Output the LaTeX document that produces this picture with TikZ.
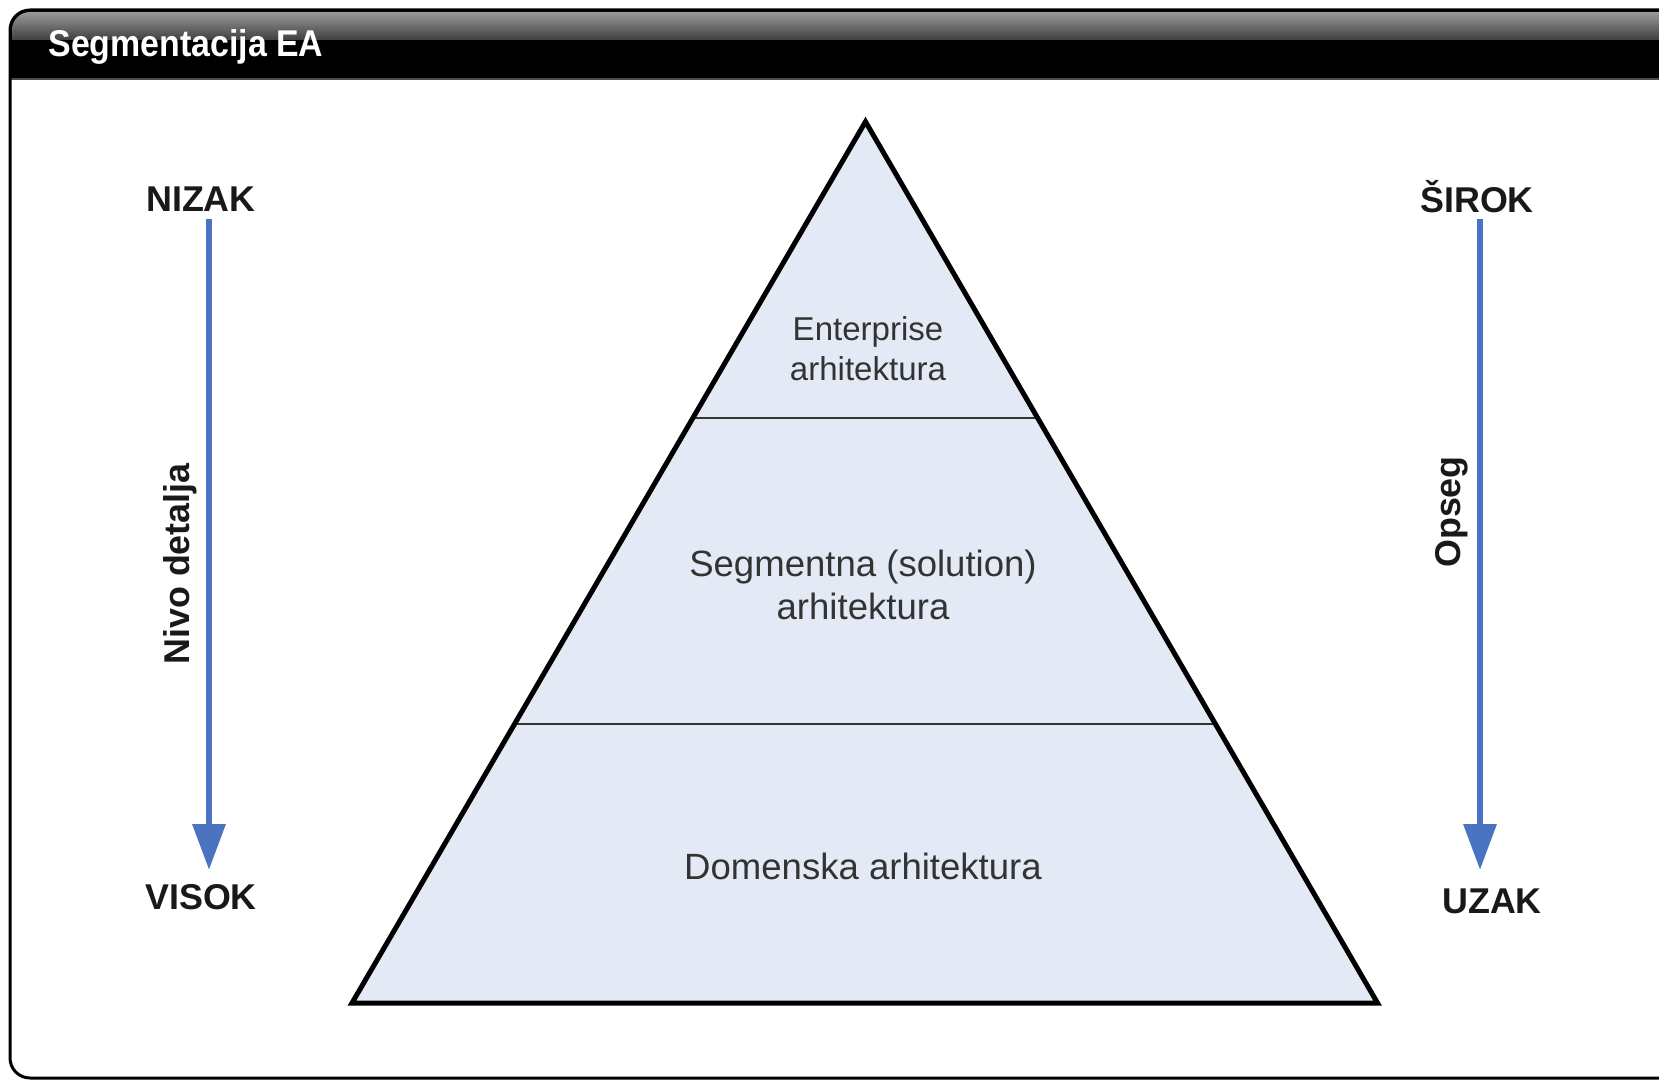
\documentclass[tikz,border=0pt]{standalone}
\usepackage{fontspec}
\setmainfont{Liberation Sans}
\usepackage{xcolor}
\usetikzlibrary{positioning,calc,arrows.meta}

\definecolor{pyrfill}{HTML}{E4EAF5}
\definecolor{arrblue}{HTML}{4A74C2}
\definecolor{txtgray}{HTML}{333333}

\tikzset{
    layer/.style={font=\fontsize{10.4}{12}\selectfont, text=txtgray, align=center},
    endlabel/.style={font=\bfseries\fontsize{10.2}{12}\selectfont, text=black!90},
    sidelabel/.style={font=\bfseries\fontsize{10.2}{12}\selectfont, text=black!90, rotate=90},
    scalearrow/.style={arrblue, line width=0.65mm, -{Triangle[length=4.6mm,width=3.2mm]}}
}

\begin{document}
\begin{tikzpicture}[x=0.1mm,y=-0.1mm]
    \useasboundingbox (0,0) rectangle (1659,1079);
    \begin{scope}
    \clip (0,0) rectangle (1659,1079);
    % frame and title bar
    \fill[black] (10,79) [rounded corners=2mm] -- (10,10) -- (1720,10) [sharp corners] -- (1720,79) -- cycle;
    \shade[top color=black!40, bottom color=black!75] (12,40) [rounded corners=1.8mm] -- (12,12) -- (1720,12) [sharp corners] -- (1720,40) -- cycle;
    \draw[black!70, line width=0.2mm] (11,79) -- (1720,79);
    \draw[black, line width=0.3mm, rounded corners=2mm] (1720,10) -- (10,10) -- (10,1078) -- (1720,1078);
    \end{scope}
    \node[anchor=west, text=white, font=\bfseries\fontsize{10.6}{12}\selectfont] (title) at (36,47) {\scalebox{0.91}[1]{Segmentacija EA}};

    % pyramid
    \coordinate (apex) at (865.5,121.7);
    \coordinate (bl) at (352,1003);
    \coordinate (br) at (1377.5,1003);
    \fill[pyrfill] (apex) -- (bl) -- (br) -- cycle;
    \draw[txtgray, line width=0.2mm] ($(apex)!0.3362!(bl)$) -- ($(apex)!0.3362!(br)$);
    \draw[txtgray, line width=0.2mm] ($(apex)!0.6834!(bl)$) -- ($(apex)!0.6834!(br)$);
    \draw[black, line width=0.5mm, line join=miter] (apex) -- (bl) -- (br) -- cycle;

    \node[layer, font=\fontsize{9.4}{11.4}\selectfont] (ent) at (868,349) {Enterprise\\arhitektura};
    \node[layer] (seg) at (863,585) {Segmentna (solution)\\arhitektura};
    \node[layer] (dom) at (863,866) {Domenska arhitektura};

    % left scale
    \node[endlabel] (nizak) at (201,199) {NIZAK};
    \node[endlabel] (visok) at (201,897) {VISOK};
    \coordinate (ltop) at (209,219);
    \coordinate (lbot) at (209,870);
    \draw[scalearrow] (ltop) -- (lbot);
    \node[sidelabel] (detalj) at (180,564) {Nivo detalja};

    % right scale
    \node[endlabel] (sirok) at (1477,197) {ŠIROK};
    \node[endlabel] (uzak) at (1492,901) {UZAK};
    \coordinate (rtop) at (1480,219);
    \coordinate (rbot) at (1480,870);
    \draw[scalearrow] (rtop) -- (rbot);
    \node[sidelabel] (opseg) at (1452,512) {Opseg};
\end{tikzpicture}
\end{document}
